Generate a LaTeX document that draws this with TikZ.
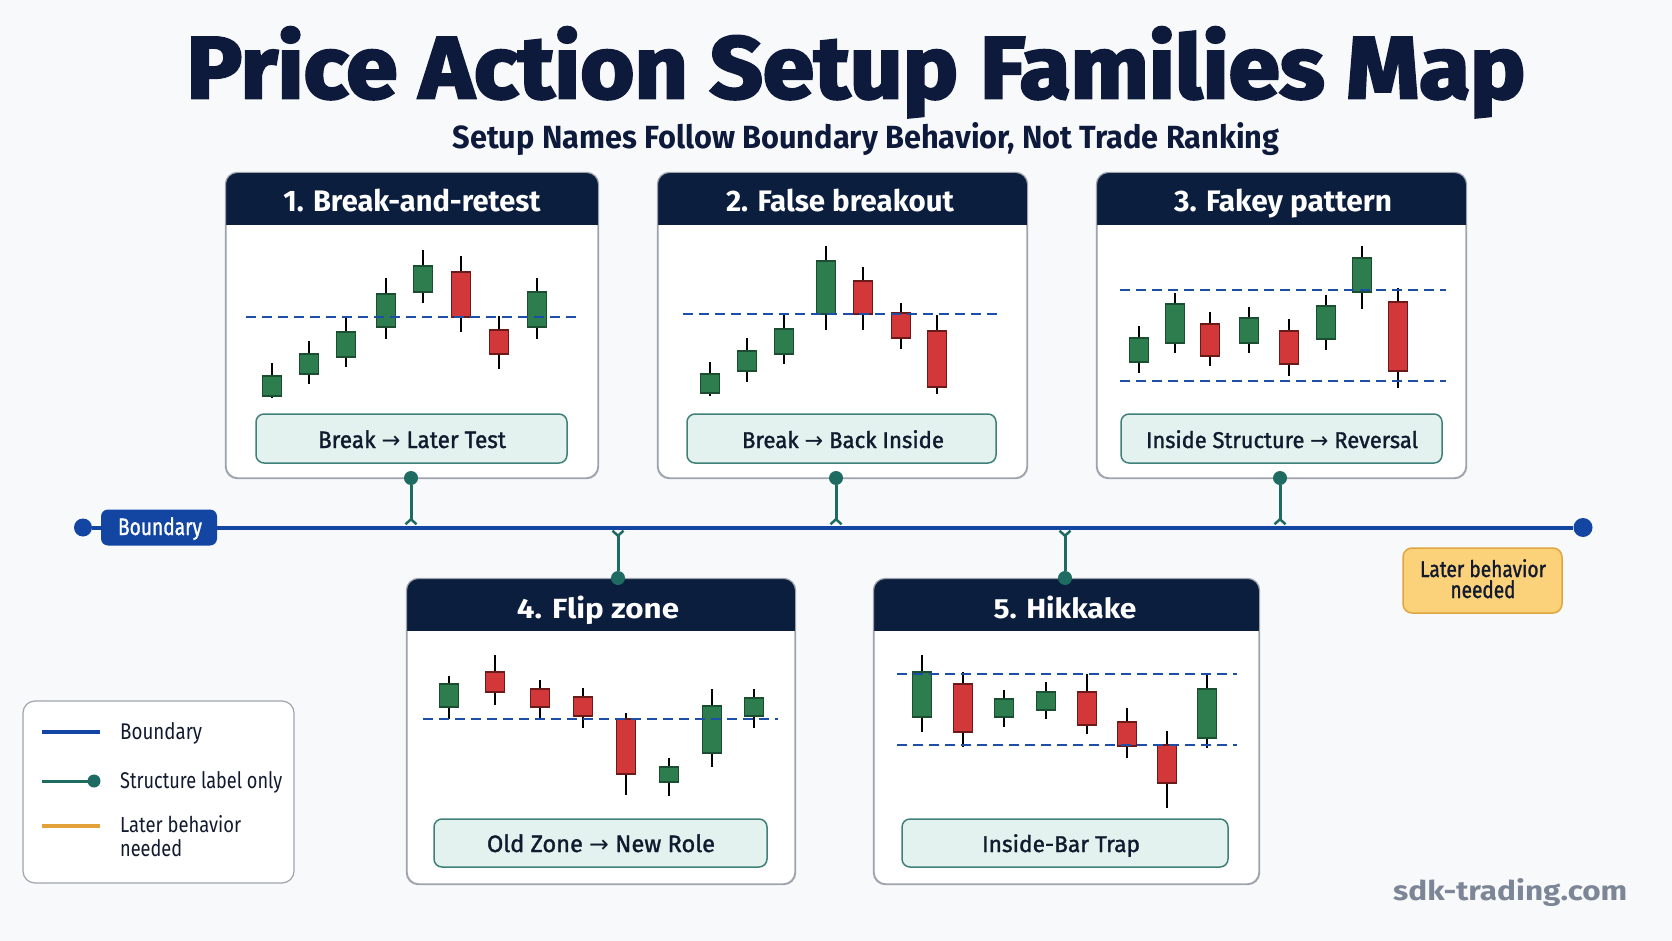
\documentclass[tikz,border=0pt]{standalone}
\usepackage{fontspec}
\setmainfont{Fira Sans}
\newfontfamily\arw{DejaVu Sans}
\newfontfamily\heavyfont{Fira Sans}[BoldFeatures={FakeBold=3}]
\newfontfamily\medfont{Fira Sans}[FakeBold=1.4]
\usepackage{graphicx}
\usetikzlibrary{arrows.meta}
\definecolor{bgc}{HTML}{F8F9FB}
\definecolor{titlec}{HTML}{0E1A3C}
\definecolor{navy}{HTML}{0B1E3E}
\definecolor{bblue}{HTML}{1346A3}
\definecolor{dblue}{HTML}{1E4FA8}
\definecolor{teal}{HTML}{1E6B62}
\definecolor{lfill}{HTML}{E4F2EF}
\definecolor{lborder}{HTML}{3F8178}
\definecolor{pborder}{HTML}{9EA3AD}
\definecolor{cgreen}{HTML}{2E7D4E}
\definecolor{cgreenD}{HTML}{1B4D30}
\definecolor{cred}{HTML}{D2373A}
\definecolor{credD}{HTML}{6B1A1A}
\definecolor{orng}{HTML}{E2A23A}
\definecolor{ofill}{HTML}{FBD27A}
\definecolor{oborder}{HTML}{E0A640}
\definecolor{wmark}{HTML}{7C8696}
\definecolor{txtc}{HTML}{111A2E}
\newcommand\fitx[3]{\resizebox{#1pt}{#2pt}{#3}}
\newcommand\ra{{\arw →}}
\newcommand\cndl[6]{\draw[wick] (#1,#2) -- (#1,#3); \filldraw[body#6] ({#1-9.5},#4) rectangle ({#1+9.5},#5);}
\newcommand\panelbx[5]{%
  \node[panelbox, minimum width=#4-#2, minimum height=#5-#3] (#1) at ({(#2+#4)/2},{(#3+#5)/2}) {};
  \begin{scope}
    \clip[rounded corners=12pt] (#1.north west) rectangle (#1.south east);
    \fill[navy] (#1.north west) rectangle ([yshift=-53pt]#1.north east);
  \end{scope}
  \draw[pborder, line width=1.2pt, rounded corners=12pt] (#1.north west) rectangle (#1.south east);
}
\tikzset{
  panelbox/.style={draw=pborder, fill=white, line width=1.2pt, rounded corners=12pt, inner sep=0},
  lbox/.style={draw=lborder, fill=lfill, line width=1.5pt, rounded corners=8pt, inner sep=0},
  txt/.style={inner sep=0, anchor=base},
  wick/.style={line width=2pt, black},
  bodyg/.style={fill=cgreen, draw=cgreenD, line width=1.2pt},
  bodyr/.style={fill=cred, draw=credD, line width=1.2pt},
  dline/.style={dblue, line width=2.8pt, dash pattern=on 10pt off 6pt},
  bline/.style={bblue, line width=4pt},
  conn/.style={teal, line width=3pt},
  tdot/.style={circle, fill=teal, minimum size=14pt, inner sep=0},
  bdot/.style={circle, fill=bblue, minimum size=18pt, inner sep=0},
  fork/.style={-{Straight Barb[reversed, length=5pt, width=11pt, line width=2.5pt]}},
}
\begin{document}
\begin{tikzpicture}[x=1pt, y=-1pt]
\fill[bgc] (0,0) rectangle (1672,941);
\useasboundingbox (0,0) rectangle (1672,941);

% titles
\node[txt, text=titlec] (title) at (856,98) {\fitx{1338}{71}{\heavyfont\bfseries Price Action Setup Families Map}};
\node[txt, text=titlec] (subtitle) at (866,149) {\fitx{827}{26}{\bfseries Setup Names Follow Boundary Behavior, Not Trade Ranking}};

% panels
\panelbx{p1}{226}{173}{598}{478}
\panelbx{p2}{658}{173}{1027}{478}
\panelbx{p3}{1097}{173}{1466}{478}
\panelbx{p4}{407}{579}{795}{884}
\panelbx{p5}{874}{579}{1259}{884}

\node[txt, text=white] (h1) at (412,212) {\fitx{257}{22.5}{\bfseries 1. Break-and-retest}};
\node[txt, text=white] (h2) at (840,212) {\fitx{228}{22.5}{\bfseries 2. False breakout}};
\node[txt, text=white] (h3) at (1283,212) {\fitx{218}{22.5}{\bfseries 3. Fakey pattern}};
\node[txt, text=white] (h4) at (598,618) {\fitx{162}{22.5}{\bfseries 4. Flip zone}};
\node[txt, text=white] (h5) at (1065,618) {\fitx{143}{22.5}{\bfseries 5. Hikkake}};

% label boxes
\node[lbox, minimum width=311, minimum height=49] (l1) at (411.5,438.5) {};
\node[lbox, minimum width=309, minimum height=49] (l2) at (841.5,438.5) {};
\node[lbox, minimum width=321, minimum height=49] (l3) at (1281.5,438.5) {};
\node[lbox, minimum width=333, minimum height=48] (l4) at (600.5,843) {};
\node[lbox, minimum width=326, minimum height=48] (l5) at (1065,843) {};
\node[txt, text=txtc] (lt1) at (412,448) {\fitx{188}{17.8}{\medfont Break \ra{} Later Test}};
\node[txt, text=txtc] (lt2) at (843,448) {\fitx{202}{17.8}{\medfont Break \ra{} Back Inside}};
\node[txt, text=txtc] (lt3) at (1282,448) {\fitx{272}{17.8}{\medfont Inside Structure \ra{} Reversal}};
\node[txt, text=txtc] (lt4) at (601,852) {\fitx{228}{17.8}{\medfont Old Zone \ra{} New Role}};
\node[txt, text=txtc] (lt5) at (1061,852) {\fitx{158}{17.8}{\medfont Inside-Bar Trap}};

% panel 1 candles
\cndl{272.3}{363}{398}{376}{396}{g}
\cndl{308.7}{341}{384}{354}{374}{g}
\cndl{346.3}{316}{367}{332}{357}{g}
\cndl{385.7}{278}{339}{294}{327}{g}
\cndl{423}{250}{303}{266}{292}{g}
\cndl{461}{256}{332}{272}{317}{r}
\cndl{499}{316}{369}{330}{354}{r}
\cndl{536.7}{278}{339}{292}{327}{g}
\draw[dline] (246,317) -- (577,317);

% panel 2 candles
\cndl{710.3}{362}{396}{374}{393}{g}
\cndl{746.7}{338}{382}{351}{371}{g}
\cndl{784.3}{313}{364}{329}{354}{g}
\cndl{826}{246}{330}{261}{314}{g}
\cndl{863.3}{267}{330}{281}{314}{r}
\cndl{900.7}{303}{349}{313}{338}{r}
\cndl{937.3}{315}{394}{331}{387}{r}
\draw[dline] (683,314) -- (1002,314);

% panel 3 candles
\cndl{1139.3}{326}{373}{338}{362}{g}
\cndl{1174.7}{293}{353}{304}{343}{g}
\cndl{1210}{312}{366}{324}{356}{r}
\cndl{1248.7}{307}{353}{318}{343}{g}
\cndl{1289.3}{319}{376}{331}{364}{r}
\cndl{1325.7}{295}{350}{306}{339}{g}
\cndl{1361.7}{246}{309}{258}{292}{g}
\cndl{1398.3}{288}{388}{302}{371}{r}
\draw[dline] (1120,290) -- (1446,290);
\draw[dline] (1120,381) -- (1446,381);

% panel 4 candles
\cndl{449.3}{676}{719}{684}{707}{g}
\cndl{495.3}{655}{705}{672}{692}{r}
\cndl{540}{680}{719}{689}{707}{r}
\cndl{583.3}{688}{728}{697}{716}{r}
\cndl{625.7}{713}{795}{719}{774}{r}
\cndl{669}{758}{796}{767}{782}{g}
\cndl{712}{689}{767}{706}{753}{g}
\cndl{754.3}{689}{728}{698}{716}{g}
\draw[dline] (423,719) -- (778,719);

% panel 5 candles
\cndl{922.3}{655}{732}{672}{717}{g}
\cndl{963.3}{672}{747}{684}{732}{r}
\cndl{1004.3}{690}{727}{699}{717}{g}
\cndl{1045.7}{682}{719}{692}{710}{g}
\cndl{1086.7}{674}{734}{692}{725}{r}
\cndl{1126.7}{708}{758}{722}{746}{r}
\cndl{1166.7}{731}{808}{745}{783}{r}
\cndl{1206.7}{674}{748}{689}{738}{g}
\draw[dline] (897,674) -- (1237,674);
\draw[dline] (897,745) -- (1237,745);

% boundary line
\node[bdot] (ldot) at (83,527.5) {};
\node[bdot, minimum size=19pt] (rdot) at (1583,527.5) {};
\node[fill=bblue, rounded corners=7pt, minimum width=116, minimum height=36, inner sep=0] (pill) at (159,527.5) {};
\draw[bline] (ldot) -- (pill);
\draw[bline] (pill.east) -- (rdot);
\node[txt, text=white] (pillt) at (160,535) {\fitx{84}{17.8}{\medfont Boundary}};

% connectors
\node[tdot] (c1) at (411,478) {};
\node[tdot] (c2) at (836,478) {};
\node[tdot] (c3) at (1280,478) {};
\node[tdot] (c4) at (618,578) {};
\node[tdot] (c5) at (1065,578) {};
\coordinate (j1) at (411,525.5);
\coordinate (j2) at (836,525.5);
\coordinate (j3) at (1280,525.5);
\coordinate (j4) at (618,529.5);
\coordinate (j5) at (1065,529.5);
\draw[conn, fork] (c1) -- (j1);
\draw[conn, fork] (c2) -- (j2);
\draw[conn, fork] (c3) -- (j3);
\draw[conn, fork] (c4) -- (j4);
\draw[conn, fork] (c5) -- (j5);

% later behavior box
\node[fill=ofill, draw=oborder, line width=1.5pt, rounded corners=9pt, minimum width=159, minimum height=65, inner sep=0] (later) at (1482.5,580.5) {};
\node[txt, text=txtc] (latert1) at (1483,577) {\fitx{126}{17.8}{\medfont Later behavior}};
\node[txt, text=txtc] (latert2) at (1483,598) {\fitx{65}{17.8}{\medfont needed}};

% legend
\node[draw=pborder, fill=white, line width=1.2pt, rounded corners=12pt, minimum width=271, minimum height=182, inner sep=0] (legend) at (158.5,792) {};
\draw[bline] (42,732) -- (100,732);
\draw[conn] (42,781) -- (94,781);
\fill[teal] (94,781) circle (6.5);
\draw[orng, line width=4pt] (42,826) -- (100,826);
\node[txt, anchor=base west, text=txtc] (lg1) at (120,739) {\fitx{82}{17}{Boundary}};
\node[txt, anchor=base west, text=txtc] (lg2) at (120,788) {\fitx{162}{17}{Structure label only}};
\node[txt, anchor=base west, text=txtc] (lg3) at (120,832) {\fitx{121}{17}{Later behavior}};
\node[txt, anchor=base west, text=txtc] (lg4) at (120,856) {\fitx{62}{17}{needed}};

% watermark
\node[txt, anchor=base west, text=wmark] (wm) at (1393,900) {\fitx{234}{22}{\bfseries sdk-trading.com}};
\end{tikzpicture}
\end{document}
